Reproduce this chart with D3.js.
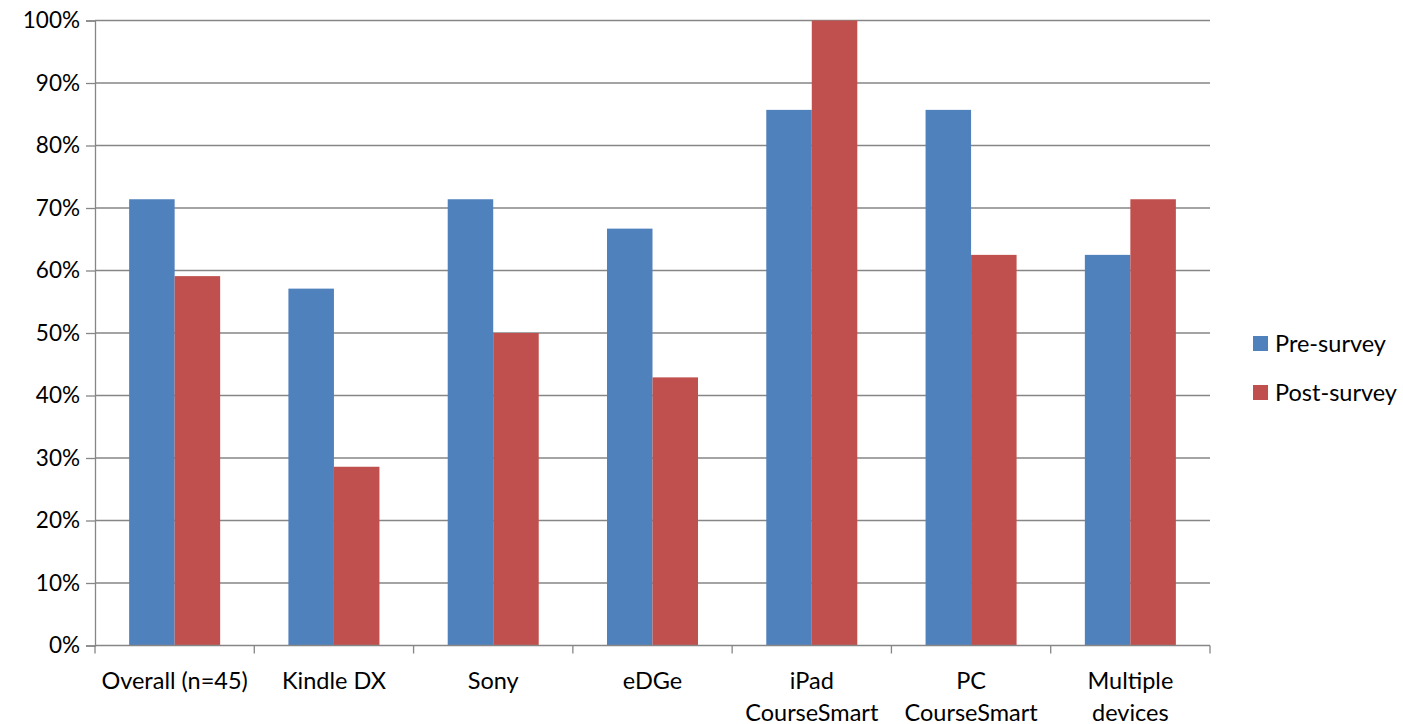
<!DOCTYPE html>
<html><head><meta charset="utf-8">
<script src="https://cdn.jsdelivr.net/npm/d3@7"></script>
<style>body{margin:0;background:#fff}svg{display:block}text{font-family:Lato,"Open Sans",sans-serif;fill:#000}</style>
</head><body><svg id="c" width="1403" height="724"></svg>
<script>
const categories = [["Overall (n=45)"],["Kindle DX"],["Sony"],["eDGe"],["iPad","CourseSmart"],["PC","CourseSmart"],["Multiple","devices"]];
const seriesNames = ["Pre-survey","Post-survey"];
const preSurvey = [71.4,57.1,71.4,66.7,85.7,85.7,62.5];
const postSurvey = [59.1,28.6,50.0,42.9,100,62.5,71.4];
const yTicks = [0,10,20,30,40,50,60,70,80,90,100];
const colors = ["#4F81BD","#C0504D"];

const FS = 23.5;
const svg = d3.select("#c");
const L=95, R=1210, T=20.5, B=645.5;
const x0 = d3.scaleBand().domain(d3.range(categories.length)).range([L,R]).paddingInner(0).paddingOuter(0);
const bw = x0.bandwidth();
const y = d3.scaleLinear().domain([0,100]).range([B,T]);
const barW = bw/3.5;

// gridlines
svg.append("g").selectAll("line").data(yTicks.filter(d=>d>0)).join("line")
  .attr("x1",L).attr("x2",R).attr("y1",d=>y(d)).attr("y2",d=>y(d))
  .attr("stroke","#868686").attr("stroke-width",1.3);

// y axis
const ya = svg.append("g").attr("transform",`translate(${L},0)`)
  .call(d3.axisLeft(y).tickValues(yTicks).tickFormat(d=>d+"%").tickSize(9).tickPadding(6));
ya.select(".domain").attr("stroke","#868686").attr("stroke-width",1.3);
ya.selectAll(".tick line").attr("stroke","#868686").attr("stroke-width",1.3);
ya.selectAll("text").attr("font-size",FS-1).attr("font-family","Lato,'Open Sans',sans-serif").attr("fill","#000");

// bars
const data = categories.map((c,i)=>({i, vals:[preSurvey[i],postSurvey[i]]}));
const g = svg.append("g");
data.forEach(d=>{
  d.vals.forEach((v,s)=>{
    g.append("rect")
      .attr("x", x0(d.i) + (bw-2*barW)/2 + s*barW)
      .attr("y", y(v)).attr("width", barW).attr("height", B-y(v))
      .attr("fill", colors[s]);
  });
});

// x axis
const xa = svg.append("g").attr("transform",`translate(0,${B})`);
xa.append("line").attr("x1",L).attr("x2",R).attr("stroke","#868686").attr("stroke-width",1.3);
xa.selectAll(".tk").data(d3.range(categories.length+1)).join("line")
  .attr("x1",i=>L+i*bw).attr("x2",i=>L+i*bw).attr("y1",0).attr("y2",8)
  .attr("stroke","#868686").attr("stroke-width",1.3);
xa.selectAll(".lbl").data(categories).join("text")
  .attr("text-anchor","middle").attr("font-size",FS)
  .attr("transform",(c,i)=>`translate(${x0(i)+bw/2},0)`)
  .each(function(c){
    d3.select(this).selectAll("tspan").data(c).join("tspan")
      .attr("x",0).attr("y",(t,j)=>43+j*32).text(t=>t);
  });

// legend
const lg = svg.append("g");
seriesNames.forEach((n,s)=>{
  lg.append("rect").attr("x",1253).attr("y",336+s*49).attr("width",15).attr("height",15).attr("fill",colors[s]);
  lg.append("text").attr("x",1275).attr("y",352+s*49).attr("font-size",FS).text(n);
});
</script></body></html>
